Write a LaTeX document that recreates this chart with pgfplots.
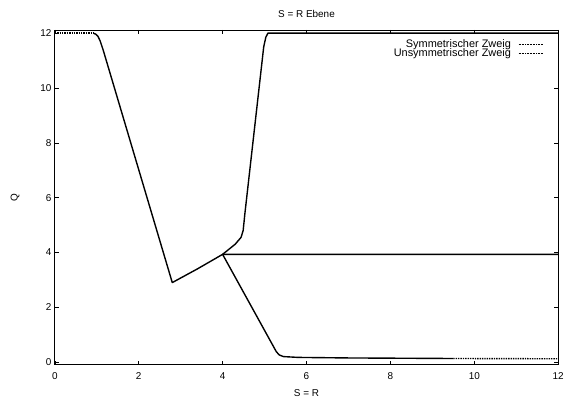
\documentclass[border=0pt]{standalone}
\usepackage{fontspec}
\setmainfont{Liberation Sans}
\usepackage{pgfplots}
\pgfplotsset{compat=1.18}
\begin{document}
\begin{tikzpicture}
\begin{axis}[
  scale only axis, width=505bp, height=336bp,
  xmin=0, xmax=12, ymin=-0.1, ymax=12.12,
  xtick={0,2,...,12}, ytick={0,2,...,12},
  tick align=inside, tick pos=both, major tick length=4bp,
  /pgf/number format/assume math mode=true,
  tick label style={font=\fontsize{10}{11}\selectfont},
  xticklabel style={yshift=-4bp},
  label style={font=\fontsize{10}{11}\selectfont},
  title style={font=\fontsize{10}{11}\selectfont, yshift=3bp},
  title={S = R Ebene},
  xlabel={S = R}, ylabel={Q},
  xlabel style={yshift=-3bp},
  ylabel style={yshift=14bp},
  axis line style={line width=0.8pt},
  every tick/.style={line width=0.6pt, black},
  legend style={draw=none, fill=none, at={(0.972,0.982)}, anchor=north east,
    font=\fontsize{11}{12}\selectfont, row sep=-4pt, inner sep=1pt},
  legend cell align=right,
  legend plot pos=right,
  legend image code/.code={\path[draw=none] (0cm,0cm) -- (0.1cm,0cm); \draw[black, densely dotted, line width=0.6pt] (0.2cm,0cm) -- (1.05cm,0cm);},
  clip=false,
]
\addlegendimage{black}
\addlegendentry{Symmetrischer Zweig}
\addlegendimage{black}
\addlegendentry{Unsymmetrischer Zweig}
% symmetric branch
\addplot[black, line width=1.4pt, densely dotted, forget plot] coordinates {(0,12) (0.92,12)};
\addplot[black, line width=1.4pt, forget plot, line join=round] coordinates {
(0.92,12) (0.98,11.96) (1.03,11.88) (1.08,11.72) (1.15,11.4) (2.8,2.9) (3.4,3.4) (4.0,3.93) (12,3.93)};
% unsymmetric upper branch
\addplot[black, line width=1.4pt, forget plot, line join=round] coordinates {
(4.0,3.93) (4.3,4.3) (4.44,4.55) (4.49,4.8) (4.53,5.4) (4.98,11.5) (5.03,11.85) (5.08,12) (12,12)};
% unsymmetric lower branch
\addplot[black, line width=1.4pt, forget plot, line join=round] coordinates {
(4.0,3.93) (5.28,0.38) (5.35,0.26) (5.45,0.2) (5.8,0.17) (7,0.15) (9.5,0.13)};
\addplot[black, line width=1.4pt, densely dotted, forget plot] coordinates {(9.5,0.13) (12,0.12)};
\end{axis}
\path[use as bounding box] (-55bp,-35bp) rectangle (512bp,366bp);
\end{tikzpicture}
\end{document}
